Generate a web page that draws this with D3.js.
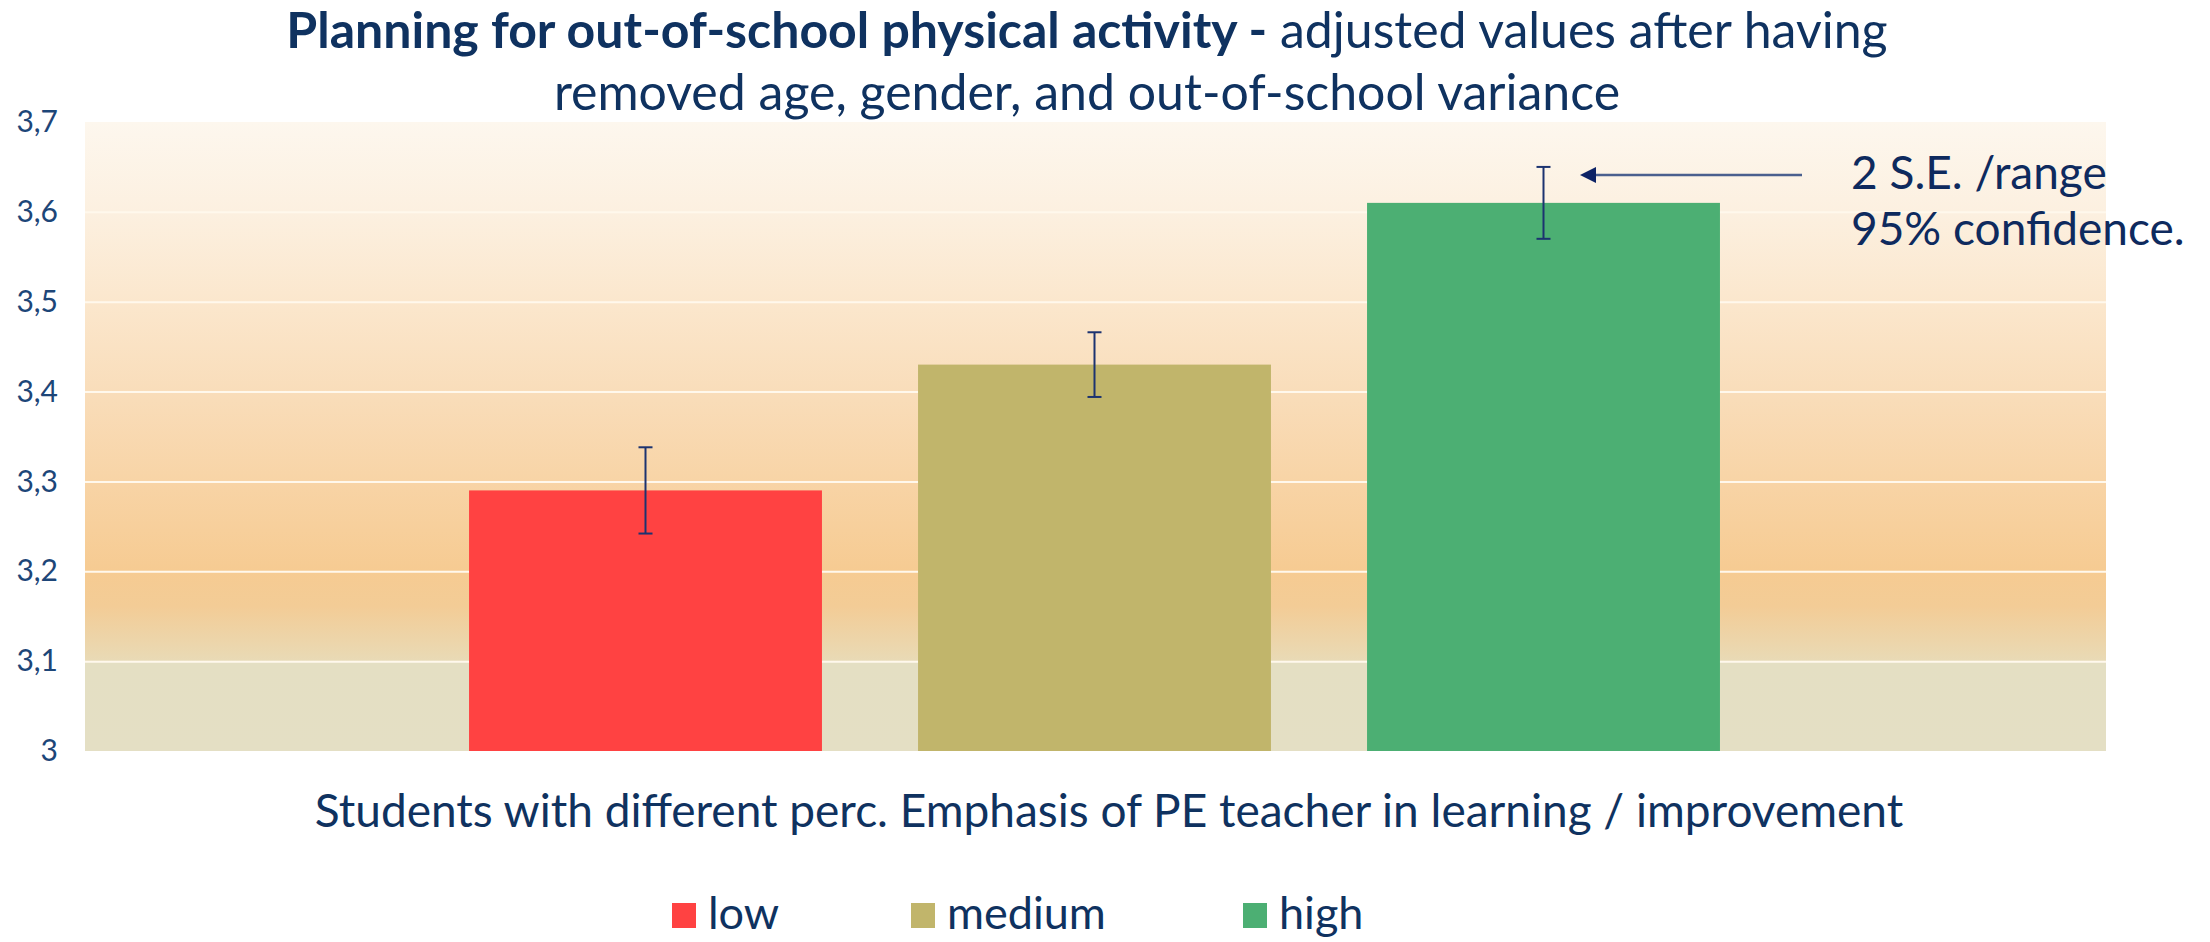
<!DOCTYPE html>
<html>
<head>
<meta charset="utf-8">
<script src="https://cdn.jsdelivr.net/npm/d3@7"></script>
<style>
    body { margin: 0; background: #ffffff; }
    svg { display: block; font-family: Lato, "Noto Sans", sans-serif; }
</style>
</head>
<body>
<svg width="2210" height="942"></svg>
<script>
"use strict";

// one category on the x axis, three series (perceived emphasis of the PE teacher)
const SERIES = ["low", "medium", "high"];
const MEANS = [3.29, 3.43, 3.61];
const ERRORS = [0.048, 0.036, 0.04]; // +/- half of the 2 S.E. range
const Y_TICKS = [3, 3.1, 3.2, 3.3, 3.4, 3.5, 3.6, 3.7];

const TITLE_BOLD = "Planning for out-of-school physical activity -";
const TITLE_REST = " adjusted values after having";
const TITLE_LINE2 = "removed age, gender, and out-of-school variance";
const X_TITLE = "Students with different perc. Emphasis of PE teacher in learning / improvement";
const NOTE_LINES = ["2 S.E. /range", "95% confidence."];

const BAR_COLORS = ["#ff4242", "#c1b56b", "#4caf73"];
const NAVY = "#0f3260";

// careful: "top" is taken by window.top
const svg = d3.select("svg"),
    plotLeft = 85,
    plotRight = 2106,
    plotTop = 122,
    plotBottom = 751;

const yScale = d3.scaleLinear()
    .domain([3, 3.7])
    .range([plotBottom, plotTop]);

const xScale = d3.scaleBand()
    .domain(SERIES)
    .range([421, 1768])
    .paddingInner(0.214)
    .paddingOuter(0.107);

const color = d3.scaleOrdinal().domain(SERIES).range(BAR_COLORS);

// plot area background: cream to orange, flat beige below 3,1
const grad = svg.append("defs").append("linearGradient")
    .attr("id", "bg")
    .attr("x1", 0).attr("y1", 0).attr("x2", 0).attr("y2", 1);
[[0, "#fdf7ee"], [0.143, "#fcf0e0"], [0.286, "#fbe7cd"], [0.429, "#f9ddba"],
 [0.571, "#f8d4a6"], [0.714, "#f6cb92"], [0.77, "#f3cc96"], [0.855, "#e9dab5"],
 [0.858, "#e4dfc3"], [1, "#e4dfc4"]].forEach(s => {
    grad.append("stop").attr("offset", s[0]).attr("stop-color", s[1]);
});

svg.append("rect")
    .attr("x", plotLeft)
    .attr("y", plotTop)
    .attr("width", plotRight - plotLeft)
    .attr("height", plotBottom - plotTop)
    .attr("fill", "url(#bg)");

// gridlines
svg.append("g")
    .attr("transform", `translate(${plotLeft}, 0)`)
    .call(d3.axisLeft(yScale).tickValues(Y_TICKS.slice(1, -1)).tickSize(-(plotRight - plotLeft)).tickFormat(""))
    .call(g => g.select(".domain").remove())
    .selectAll("line")
    .attr("stroke", "#fff8ec")
    .attr("stroke-width", 2);

// tick labels, decimal comma
const fmt = d3.formatLocale({ decimal: ",", thousands: ".", grouping: [3], currency: ["", ""] }).format(".1~f");
svg.append("g")
    .attr("transform", `translate(58, 0)`)
    .call(d3.axisLeft(yScale).tickValues(Y_TICKS).tickSize(0).tickFormat(fmt))
    .call(g => g.select(".domain").remove())
    .selectAll("text")
    .attr("x", 0)
    .attr("font-family", "Lato, sans-serif")
    .attr("font-size", 30)
    .attr("fill", "#1d4678");

// bars
svg.selectAll("rect.bar")
    .data(MEANS)
    .join("rect")
    .attr("class", "bar")
    .attr("x", (d, i) => xScale(SERIES[i]))
    .attr("y", d => yScale(d))
    .attr("width", xScale.bandwidth())
    .attr("height", d => plotBottom - yScale(d))
    .attr("fill", (d, i) => color(SERIES[i]));

// error bars
const err = svg.selectAll("g.err")
    .data(MEANS)
    .join("g")
    .attr("class", "err")
    .attr("stroke", "#1c3370")
    .attr("stroke-width", 2);

err.append("line")
    .attr("x1", (d, i) => xScale(SERIES[i]) + xScale.bandwidth() / 2)
    .attr("x2", (d, i) => xScale(SERIES[i]) + xScale.bandwidth() / 2)
    .attr("y1", (d, i) => yScale(d + ERRORS[i]))
    .attr("y2", (d, i) => yScale(d - ERRORS[i]));

[1, -1].forEach(sign => {
    err.append("line")
        .attr("x1", (d, i) => xScale(SERIES[i]) + xScale.bandwidth() / 2 - 7)
        .attr("x2", (d, i) => xScale(SERIES[i]) + xScale.bandwidth() / 2 + 7)
        .attr("y1", (d, i) => yScale(d + sign * ERRORS[i]))
        .attr("y2", (d, i) => yScale(d + sign * ERRORS[i]));
});

// title
const title = svg.append("text")
    .attr("x", 1087)
    .attr("y", 48)
    .attr("text-anchor", "middle")
    .attr("font-size", 50)
    .attr("fill", NAVY);
title.append("tspan").attr("font-weight", "bold").text(TITLE_BOLD);
title.append("tspan").text(TITLE_REST);

svg.append("text")
    .attr("x", 1087)
    .attr("y", 110)
    .attr("text-anchor", "middle")
    .attr("font-size", 50)
    .attr("fill", NAVY)
    .text(TITLE_LINE2);

// x axis title
svg.append("text")
    .attr("x", 1109)
    .attr("y", 827)
    .attr("text-anchor", "middle")
    .attr("font-size", 46)
    .attr("fill", NAVY)
    .text(X_TITLE);

// annotation with arrow pointing at the error bar
const arrowY = 175;
svg.append("line")
    .attr("x1", 1802).attr("x2", 1594)
    .attr("y1", arrowY).attr("y2", arrowY)
    .attr("stroke", "#4a5f8e")
    .attr("stroke-width", 2.5);
svg.append("path")
    .attr("d", `M1580,${arrowY} L1596,${arrowY - 8} L1596,${arrowY + 8} Z`)
    .attr("fill", "#0d2366");

svg.selectAll("text.note")
    .data(NOTE_LINES)
    .join("text")
    .attr("class", "note")
    .attr("x", 1851)
    .attr("y", (d, i) => 189 + i * 56)
    .attr("font-size", 46)
    .attr("fill", "#0e2a5e")
    .text(d => d);

// legend (sits right at the bottom edge, keep descenders inside)
const legendX = [672, 911, 1243];
const legend = svg.selectAll("g.legend")
    .data(SERIES)
    .join("g")
    .attr("class", "legend")
    .attr("transform", (d, i) => `translate(${legendX[i]}, 903)`);

legend.append("rect")
    .attr("width", 24)
    .attr("height", 25)
    .attr("fill", d => color(d));

legend.append("text")
    .attr("x", 36)
    .attr("y", 26)
    .attr("font-size", 45)
    .attr("fill", NAVY)
    .text(d => d);
</script>
</body>
</html>
